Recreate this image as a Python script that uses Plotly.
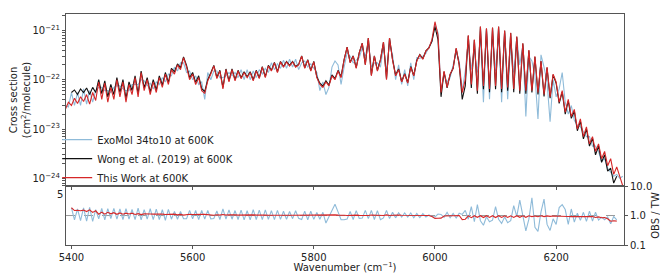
import math
import plotly.graph_objects as go

# ---------------- data ----------------
# wavenumber grid (cm^-1) for ExoMol and This Work
wavenumber = list(range(5390, 6311, 5))
# wavenumber grid for Wong et al. (2019)
wong_wavenumber = list(range(5400, 6301, 5))

UNIT = 1e-22  # values below are in units of 1e-22 cm^2/molecule

exomol = [
    0.30, 0.28, 0.55, 0.30, 0.55, 0.30, 0.65, 0.32, 0.60, 0.35,
    0.60, 0.70, 0.70, 0.60, 0.60, 0.55, 0.70, 0.75, 0.75, 0.65,
    0.60, 0.60, 0.80, 0.80, 0.80, 1.00, 0.95, 0.75, 0.85, 0.65,
    0.90, 0.80, 1.10, 0.90, 1.30, 1.20, 1.80, 1.50, 2.20, 2.20,
    1.40, 1.50, 1.00, 1.20, 0.80, 0.90, 0.40, 1.40, 1.00, 1.50,
    1.50, 1.10, 1.10, 1.20, 1.40, 1.20, 1.40, 1.10, 1.60, 1.00,
    1.60, 1.00, 1.50, 1.10, 1.60, 1.30, 1.70, 1.40, 2.20, 1.60,
    2.10, 1.70, 2.50, 1.70, 2.60, 1.80, 2.60, 1.60, 2.20, 2.40,
    1.80, 2.10, 1.70, 1.40, 0.60, 0.90, 0.50, 0.70, 1.80, 2.40,
    2.00, 0.80, 1.80, 3.50, 3.00, 2.20, 2.50, 2.80, 4.50, 3.00,
    5.50, 1.80, 2.20, 2.20, 1.80, 4.80, 1.50, 5.50, 3.20, 1.00,
    2.00, 0.80, 1.60, 0.75, 2.20, 1.00, 2.80, 2.70, 3.00, 3.40,
    4.60, 6.00, 13.5, 9.00, 0.60, 1.30, 0.90, 1.10, 2.00, 3.60,
    2.40, 0.60, 1.50, 6.00, 1.60, 4.00, 1.40, 8.00, 0.35, 10.0,
    0.40, 8.00, 1.50, 9.00, 0.35, 9.00, 0.40, 6.00, 1.40, 7.00,
    2.00, 5.00, 0.18, 3.00, 2.40, 1.20, 0.16, 3.20, 1.80, 0.90,
    0.14, 1.00, 0.45, 0.65, 1.40, 0.35, 0.20, 0.30, 0.15, 0.12,
    0.11, 0.09, 0.07, 0.07, 0.045, 0.045, 0.035, 0.022, 0.025, 0.016,
    0.013, 0.011, 0.012, 0.010, 0.011,
]

wong = [
    0.55, 0.62, 0.50, 0.65, 0.55, 0.68, 0.50, 0.70, 0.55, 1.00,
    0.52, 0.95, 0.45, 0.80, 0.50, 1.10, 0.55, 1.00, 0.42, 0.90,
    0.60, 1.20, 0.52, 1.50, 0.68, 1.10, 0.56, 1.00, 0.62, 1.20,
    0.78, 1.40, 0.88, 1.70, 1.45, 2.10, 1.75, 2.90, 1.95, 1.10,
    1.40, 0.88, 1.20, 0.66, 0.58, 1.00, 1.38, 1.95, 1.12, 1.55,
    0.70, 1.65, 0.96, 1.65, 1.00, 1.55, 1.10, 1.45, 1.15, 1.45,
    1.00, 1.55, 1.10, 1.85, 1.15, 1.95, 1.55, 2.25, 1.45, 2.35,
    1.85, 2.35, 1.95, 2.35, 1.85, 2.05, 3.05, 1.75, 2.55, 1.55,
    2.35, 1.15, 0.85, 0.74, 0.95, 0.78, 1.25, 1.05, 1.55, 1.15,
    2.55, 4.60, 2.25, 3.05, 1.75, 3.55, 5.50, 2.05, 7.00, 1.25,
    3.05, 1.55, 2.55, 5.80, 1.05, 7.00, 2.55, 1.25, 1.65, 0.92,
    1.33, 0.88, 1.85, 1.22, 2.45, 3.25, 2.65, 3.85, 4.40, 6.00,
    12.0, 6.50, 0.45, 1.45, 0.68, 1.28, 1.70, 4.30, 2.00, 0.40,
    0.75, 7.80, 0.68, 6.40, 0.52, 11.8, 0.64, 10.8, 0.56, 11.3,
    0.64, 11.8, 0.56, 9.80, 0.60, 8.80, 0.56, 7.40, 0.52, 5.40,
    0.52, 3.90, 0.55, 2.90, 0.50, 2.35, 0.46, 1.75, 0.42, 1.25,
    0.85, 0.33, 0.56, 0.20, 0.37, 0.165, 0.23, 0.092, 0.145, 0.063,
    0.10, 0.045, 0.065, 0.03, 0.045, 0.021, 0.03, 0.014, 0.016, 0.008,
    0.011,
]

thiswork = [
    0.25, 0.35, 0.30, 0.42, 0.33, 0.45, 0.36, 0.50, 0.32, 0.55,
    0.38, 0.90, 0.40, 0.85, 0.35, 0.70, 0.40, 1.00, 0.45, 0.90,
    0.35, 0.80, 0.50, 1.10, 0.45, 1.40, 0.60, 1.00, 0.50, 0.90,
    0.55, 1.10, 0.70, 1.30, 0.80, 1.60, 1.30, 2.00, 1.60, 2.80,
    1.80, 1.00, 1.30, 0.80, 1.10, 0.60, 0.53, 0.95, 1.30, 1.90,
    1.05, 1.50, 0.65, 1.60, 0.90, 1.60, 0.95, 1.50, 1.05, 1.40,
    1.10, 1.40, 0.95, 1.50, 1.05, 1.80, 1.10, 1.90, 1.50, 2.20,
    1.40, 2.30, 1.80, 2.30, 1.90, 2.30, 1.80, 2.00, 3.00, 1.70,
    2.50, 1.50, 2.30, 1.10, 0.80, 0.70, 0.90, 0.75, 1.20, 1.00,
    1.50, 1.10, 2.50, 4.60, 2.20, 3.00, 1.70, 3.50, 5.50, 2.00,
    7.00, 1.20, 3.00, 1.50, 2.50, 5.80, 1.00, 7.00, 2.50, 1.20,
    1.60, 0.90, 1.30, 0.85, 1.80, 1.20, 2.40, 3.20, 2.60, 3.80,
    4.40, 6.50, 15.0, 8.00, 0.55, 1.50, 0.70, 1.30, 1.70, 4.40,
    2.00, 0.55, 1.00, 8.00, 0.80, 6.50, 0.60, 12.0, 0.75, 11.0,
    0.65, 11.5, 0.75, 12.0, 0.65, 10.0, 0.70, 9.00, 0.65, 7.50,
    0.60, 5.50, 0.60, 4.00, 0.60, 3.00, 0.55, 2.40, 0.50, 1.80,
    0.45, 1.30, 0.90, 0.35, 0.60, 0.22, 0.40, 0.18, 0.25, 0.10,
    0.16, 0.07, 0.11, 0.05, 0.07, 0.035, 0.05, 0.025, 0.035, 0.018,
    0.025, 0.012, 0.017, 0.011, 0.007,
]

assert len(exomol) == len(wavenumber) == len(thiswork)
assert len(wong) == len(wong_wavenumber)

x_ticks = [5400, 5600, 5800, 6000, 6200]
ratio_ticks = [0.1, 1, 10]
ratio_ticklabels = ["0.1", "1.0", "10.0"]
left_ratio_tick = 5

# ---------------- derived ----------------
exomol_abs = [v * UNIT for v in exomol]
wong_abs = [v * UNIT for v in wong]
tw_abs = [v * UNIT for v in thiswork]

off = wavenumber.index(wong_wavenumber[0])
tw_sub = thiswork[off:off + len(wong)]
exo_sub = exomol[off:off + len(wong)]
ratio_exomol = [e / t for e, t in zip(exo_sub, tw_sub)]
ratio_wong = [w / t for w, t in zip(wong, tw_sub)]

# log tick positions (major with labels, minor unlabeled)
top_tickvals, top_ticktext = [], []
for d in range(-25, -20):
    for m in range(1, 10):
        top_tickvals.append(m * 10.0 ** d)
        top_ticktext.append(f"10<sup>−{-d}</sup>" if m == 1 else "")

BLUE = "#8fbbd9"
BLACK = "#111111"
RED = "#d62728"
AX = "#555555"
TXT = "#222222"
FONT = dict(family="DejaVu Sans", size=10, color=TXT)

# page body adds an 8px offset; figure sized to fill the remaining window
split = 61 / 239
xr = [5391, 6312]

fig = go.Figure()
fig.add_trace(go.Scatter(x=wavenumber, y=exomol_abs, mode="lines",
                         line=dict(color=BLUE, width=1.1),
                         name="ExoMol 34to10 at 600K", xaxis="x", yaxis="y"))
fig.add_trace(go.Scatter(x=wong_wavenumber, y=wong_abs, mode="lines",
                         line=dict(color=BLACK, width=1.1),
                         name="Wong et al. (2019) at 600K", xaxis="x", yaxis="y"))
fig.add_trace(go.Scatter(x=wavenumber, y=tw_abs, mode="lines",
                         line=dict(color=RED, width=1.1),
                         name="This Work at 600K", xaxis="x", yaxis="y"))
fig.add_trace(go.Scatter(x=wong_wavenumber, y=ratio_exomol, mode="lines",
                         line=dict(color=BLUE, width=1.1), showlegend=False,
                         xaxis="x2", yaxis="y2"))
fig.add_trace(go.Scatter(x=wong_wavenumber, y=ratio_wong, mode="lines",
                         line=dict(color=RED, width=1.1), showlegend=False,
                         xaxis="x2", yaxis="y2"))

fig.add_shape(type="line", xref="x2 domain", x0=0, x1=1, yref="y2", y0=1, y1=1,
              line=dict(color="#999999", width=1, dash="dash"), layer="below")

fig.add_annotation(text=str(left_ratio_tick), xref="paper", x=0, xanchor="right", xshift=-1,
                   yref="y2", y=math.log10(left_ratio_tick), yanchor="middle",
                   showarrow=False, font=FONT)

line_kw = dict(showline=True, linecolor=AX, linewidth=1, showgrid=False,
               zeroline=False, tickcolor=AX, mirror=True)

fig.update_layout(
    width=660, height=265,
    margin=dict(l=45, r=44, t=0, b=26),
    paper_bgcolor="white", plot_bgcolor="white",
    font=FONT,
    showlegend=True,
    legend=dict(x=-0.0158, y=0.519, xanchor="left", yanchor="top",
                bgcolor="rgba(0,0,0,0)", font=FONT, tracegroupgap=0),
    xaxis=dict(domain=[0, 1], anchor="y", range=xr, tickvals=x_ticks,
               showticklabels=False, ticks="outside", ticklen=3, **line_kw),
    yaxis=dict(domain=[split, 1], anchor="x", type="log", range=[-24.157, -20.667],
               tickvals=top_tickvals, ticktext=top_ticktext, ticks="outside", ticklen=3,
               title=dict(text="Cross section<br>(cm<sup>2</sup>/molecule)", standoff=4,
                          font=FONT),
               **line_kw),
    xaxis2=dict(domain=[0, 1], anchor="y2", range=xr, tickvals=x_ticks,
                ticks="outside", ticklen=3,
                title=dict(text="Wavenumber (cm<sup>−1</sup>)", standoff=3, font=FONT),
                **line_kw),
    yaxis2=dict(domain=[0, split], anchor="x2", side="right", type="log", range=[-1, 1],
                tickvals=ratio_ticks, ticktext=ratio_ticklabels, ticks="outside", ticklen=3,
                title=dict(text="OBS / TW", standoff=0, font=FONT),
                **line_kw),
)

fig.write_html("out.html")
